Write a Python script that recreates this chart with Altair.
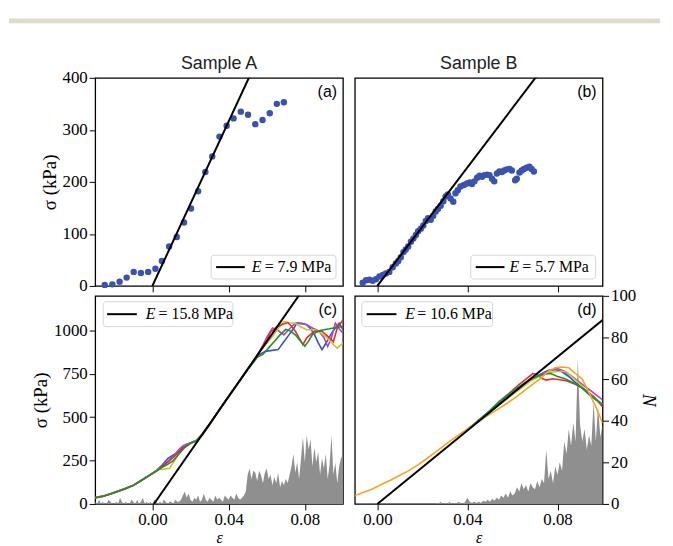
import altair as alt
import pandas as pd

SERIF = "Liberation Serif"
SANS = "Liberation Sans"
W, H = 250, 210

# ---------------- data ----------------
# panel (a): sample A, stress-strain points
a_eps = [-0.0250, -0.0210, -0.0172, -0.0135, -0.0098, -0.0060, -0.0022, 0.0016, 0.0050, 0.0088,
         0.0128, 0.0166, 0.0203, 0.0240, 0.0278, 0.0314, 0.0352, 0.0390, 0.0426, 0.0464,
         0.0502, 0.0540, 0.0578, 0.0616, 0.0653, 0.0690]
a_sig = [2, 3, 8, 16, 27, 25, 27, 33, 48, 76,
         94, 122, 149, 182, 219, 249, 287, 308, 322, 335,
         329, 311, 319, 332, 350, 353]

# panel (b): sample B, stress-strain points
b_eps = [-0.0065, -0.0050, -0.0035, -0.0021, -0.0006, 0.0009, 0.0024, 0.0038, 0.0053, 0.0068,
         0.0082, 0.0093, 0.0104, 0.0116, 0.0126, 0.0137, 0.0149, 0.0160, 0.0171, 0.0181,
         0.0193, 0.0204, 0.0215, 0.0225, 0.0237, 0.0248, 0.0259, 0.0269, 0.0281, 0.0293,
         0.0303, 0.0313, 0.0325, 0.0337, 0.0347, 0.0357, 0.0369, 0.0384, 0.0398, 0.0410,
         0.0420, 0.0431, 0.0443, 0.0454, 0.0465, 0.0475, 0.0487, 0.0498, 0.0509, 0.0519,
         0.0531, 0.0542, 0.0553, 0.0563, 0.0575, 0.0587, 0.0597, 0.0612, 0.0619, 0.0631,
         0.0641, 0.0651, 0.0663, 0.0675, 0.0685, 0.0695]
b_sig = [6, 11, 12, 10, 13, 18, 21, 24, 27, 36,
         43, 48, 55, 65, 70, 76, 85, 91, 98, 105,
         110, 116, 125, 130, 127, 135, 143, 148, 154, 163,
         172, 176, 168, 162, 178, 184, 191, 194, 197, 199,
         196, 201, 208, 212, 210, 213, 214, 213, 206, 201,
         216, 220, 219, 222, 224, 225, 222, 203, 206, 218,
         222, 225, 227, 229, 225, 220]

# linear fits: modulus (MPa) and strain offset
fit_E = [7.9, 5.7, 15.8, 10.6]
fit_eps0 = [0.0, 0.0, 0.0008, 0.0]
fit_labels = ["= 7.9 MPa", "= 5.7 MPa", "= 15.8 MPa", "= 10.6 MPa"]
letters = ["(a)", "(b)", "(c)", "(d)"]
samples = ["Sample A", "Sample B"]

# panel (c): sample A, five simulated curves
c_blue_eps = [-0.030, -0.026, -0.022, -0.018, -0.014, -0.010, -0.006, -0.002, 0.002, 0.005,
              0.008, 0.011, 0.014, 0.017, 0.020, 0.023, 0.026, 0.030, 0.034, 0.038,
              0.042, 0.046, 0.050, 0.053, 0.056, 0.059, 0.062, 0.066, 0.069, 0.071,
              0.074, 0.076, 0.079, 0.081, 0.083, 0.085, 0.087, 0.089, 0.091, 0.093,
              0.095, 0.098, 0.100]
c_blue_sig = [37, 45, 59, 74, 90, 108, 135, 163, 192, 222,
              262, 282, 305, 335, 352, 366, 400, 460, 525, 590,
              652, 714, 777, 822, 860, 879, 884, 890, 935, 965,
              1010, 1044, 1040, 1033, 1010, 977, 930, 890, 925, 965,
              1000, 1042, 1005]
c_red_eps = [-0.030, -0.026, -0.022, -0.018, -0.014, -0.010, -0.006, -0.002, 0.002, 0.005,
             0.008, 0.011, 0.014, 0.017, 0.020, 0.023, 0.026, 0.030, 0.034, 0.038,
             0.042, 0.046, 0.050, 0.052, 0.055, 0.057, 0.060, 0.062, 0.065, 0.068,
             0.071, 0.073, 0.075, 0.079, 0.081, 0.085, 0.089, 0.093, 0.095, 0.097,
             0.100]
c_red_sig = [35, 43, 57, 72, 88, 106, 133, 160, 188, 212,
             240, 268, 300, 330, 350, 362, 395, 455, 522, 588,
             650, 712, 777, 804, 855, 895, 945, 990, 1020, 1035,
             1046, 1025, 996, 919, 958, 996, 996, 958, 935, 1015,
             1061]
c_green_eps = [-0.030, -0.026, -0.022, -0.018, -0.014, -0.010, -0.006, -0.002, 0.002, 0.005,
               0.008, 0.011, 0.014, 0.017, 0.020, 0.023, 0.026, 0.030, 0.034, 0.038,
               0.042, 0.046, 0.050, 0.053, 0.055, 0.058, 0.061, 0.064, 0.067, 0.070,
               0.072, 0.075, 0.078, 0.080, 0.082, 0.084, 0.086, 0.088, 0.090, 0.093,
               0.095, 0.098, 0.100]
c_green_sig = [36, 44, 58, 73, 89, 107, 134, 162, 190, 210,
               228, 250, 290, 325, 350, 364, 398, 458, 524, 589,
               651, 713, 775, 815, 845, 862, 900, 937, 975, 1006,
               1000, 975, 935, 910, 940, 977, 990, 1000, 1004, 1010,
               1015, 1020, 1023]
c_magenta_eps = [-0.030, -0.026, -0.022, -0.018, -0.014, -0.010, -0.006, -0.002, 0.002, 0.005,
                 0.008, 0.011, 0.014, 0.016, 0.018, 0.020, 0.023, 0.026, 0.030, 0.034,
                 0.038, 0.042, 0.046, 0.050, 0.053, 0.056, 0.060, 0.063, 0.066, 0.069,
                 0.072, 0.075, 0.078, 0.081, 0.084, 0.087, 0.090, 0.092, 0.094, 0.096,
                 0.098, 0.100]
c_magenta_sig = [37, 45, 59, 74, 90, 108, 135, 163, 190, 215,
                 245, 275, 315, 335, 345, 352, 366, 400, 460, 525,
                 590, 653, 715, 778, 825, 870, 960, 1015, 1000, 975,
                 1010, 1042, 1040, 1033, 1015, 1000, 960, 908, 960, 1042,
                 1010, 985]
c_yellow_eps = [-0.030, -0.026, -0.022, -0.018, -0.014, -0.010, -0.006, -0.002, 0.001, 0.003,
                0.006, 0.009, 0.011, 0.014, 0.017, 0.020, 0.023, 0.026, 0.030, 0.034,
                0.038, 0.042, 0.046, 0.050, 0.054, 0.057, 0.060, 0.063, 0.066, 0.069,
                0.072, 0.075, 0.078, 0.081, 0.085, 0.088, 0.091, 0.094, 0.097, 0.100]
c_yellow_sig = [36, 44, 58, 73, 89, 107, 134, 162, 185, 200,
                200, 205, 240, 290, 330, 350, 364, 398, 458, 524,
                589, 652, 714, 776, 845, 889, 925, 965, 1010, 1052,
                1045, 1042, 1020, 1004, 1004, 990, 965, 930, 898, 927]

# panel (d): sample B, six simulated curves
d_orange_eps = [-0.010, -0.006, -0.002, 0.002, 0.006, 0.010, 0.014, 0.018, 0.022, 0.026,
                0.030, 0.034, 0.038, 0.042, 0.046, 0.050, 0.054, 0.058, 0.062, 0.066,
                0.070, 0.073, 0.076, 0.079, 0.082, 0.085, 0.088, 0.091, 0.094, 0.097, 0.100]
d_orange_sig = [48, 68, 88, 114, 138, 165, 192, 225, 262, 300,
                340, 378, 415, 450, 485, 518, 550, 585, 620, 660,
                700, 730, 765, 785, 790, 785, 752, 720, 640, 560, 467]
d_red_eps = [0.040, 0.044, 0.048, 0.052, 0.056, 0.060, 0.063, 0.066, 0.069, 0.071,
             0.073, 0.075, 0.078, 0.081, 0.084, 0.087, 0.090, 0.093, 0.096, 0.098, 0.100]
d_red_sig = [430, 470, 512, 560, 610, 655, 690, 720, 752, 745,
             725, 714, 722, 716, 710, 695, 675, 650, 620, 590, 560]
d_blue_eps = [0.045, 0.050, 0.055, 0.060, 0.064, 0.068, 0.072, 0.076, 0.079, 0.082,
              0.085, 0.088, 0.091, 0.094, 0.097, 0.100]
d_blue_sig = [480, 535, 590, 640, 680, 715, 745, 771, 775, 762,
              735, 700, 668, 630, 600, 575]
d_magenta_eps = [0.045, 0.050, 0.055, 0.060, 0.064, 0.068, 0.072, 0.076, 0.080, 0.083,
                 0.086, 0.089, 0.092, 0.095, 0.098, 0.100]
d_magenta_sig = [478, 532, 585, 635, 675, 712, 742, 765, 781, 765,
                 740, 710, 680, 650, 620, 600]
d_olive_eps = [0.045, 0.050, 0.055, 0.060, 0.064, 0.068, 0.072, 0.076, 0.079, 0.082,
               0.084, 0.087, 0.090, 0.093, 0.096, 0.099, 0.100]
d_olive_sig = [476, 530, 582, 630, 670, 708, 738, 758, 762, 765,
               762, 725, 690, 650, 615, 585, 578]
d_green_eps = [0.040, 0.043, 0.046, 0.050, 0.054, 0.058, 0.062, 0.065, 0.068, 0.071,
               0.074, 0.077, 0.080, 0.083, 0.086, 0.089, 0.092, 0.095, 0.098, 0.100]
d_green_sig = [432, 462, 495, 540, 590, 630, 668, 695, 718, 735,
               748, 752, 735, 724, 705, 685, 660, 625, 595, 571]

# histograms of events N (bins of width 0.001 in strain)
hist_step = 0.001
hist_c_start = -0.030
hist_c_N = [1, 0, 2, 0, 1, 0, 0, 2, 1, 0,
            0, 1, 0, 3, 1, 0, 1, 0, 0, 2,
            1, 0, 2, 0, 1, 3, 0, 1, 0, 1,
            0, 2, 1, 0, 1, 0, 2, 1, 0, 1,
            1, 0, 2, 1, 1, 2, 4, 6, 3, 5,
            2, 1, 3, 2, 4, 1, 2, 5, 2, 1,
            3, 2, 1, 4, 2, 3, 2, 1, 4, 3,
            2, 4, 3, 2, 5, 3, 2, 3, 4, 6,
            14, 17, 12, 16, 15, 11, 16, 14, 10, 15,
            17, 12, 14, 9, 13, 10, 15, 8, 11, 9,
            12, 10, 14, 18, 24, 15, 20, 12, 22, 32,
            20, 33, 26, 31, 18, 27, 20, 25, 14, 22,
            17, 24, 12, 19, 33, 14, 20, 10, 18, 22, 24]
hist_d_start = 0.026
hist_d_N = [0.5, 0, 1, 0, 0.5, 0, 1, 0, 0.5, 0,
            1, 0.5, 0, 1, 3, 1, 0.5, 1, 0.5, 1,
            0.5, 1.5, 1, 2, 1, 2.5, 1.5, 3, 2, 4,
            3, 5, 3, 6, 4, 5, 8, 6, 10, 7,
            9, 6, 10, 8, 7, 11, 8, 12, 10, 26,
            12, 16, 10, 18, 14, 20, 16, 30, 24, 36,
            28, 39, 30, 70, 38, 30, 36, 26, 33, 28,
            49, 30, 47, 32, 38]

# ---------------- styling ----------------
PT = "#3a52b0"
BLUE = "#3a4fc4"
RED = "#e82b2b"
GREEN = "#1f8f2f"
MAGENTA = "#b145c4"
YELLOW = "#c5c62c"
ORANGE = "#f7a324"
GRAY = "#8f8f8f"

x_ticks = [0.0, 0.04, 0.08]
y_ticks_top = [0, 100, 200, 300, 400]
y_ticks_bot = [0, 250, 500, 750, 1000]
n_ticks = [0, 20, 40, 60, 80, 100]
xdom_A = [-0.03, 0.1]
xdom_B = [-0.01, 0.1]
sig_top = [0, 400]
sig_bot = [0, 1200]
n_dom = [0, 100]

dummy = pd.DataFrame({"k": [0]})


def xenc(dom, show):
    if show:
        ax = alt.Axis(values=x_ticks, format=".2f", title="ε", titleFontStyle="italic",
                      titleFontSize=16, titleBaseline="top", titlePadding=2)
    else:
        ax = alt.Axis(values=x_ticks, labels=False, title=None)
    return alt.X("eps:Q", scale=alt.Scale(domain=dom, nice=False, zero=False), axis=ax)


def yenc(dom, vals):
    sc = alt.Scale(domain=dom, nice=False, zero=False)
    if vals is None:
        return alt.Y("sig:Q", scale=sc, axis=None)
    return alt.Y("sig:Q", scale=sc, axis=alt.Axis(values=vals, format="d", title="σ (kPa)",
                                                  titlePadding=3))


def fit_layer(i, xmax, X, Y):
    e0 = fit_eps0[i]
    E = fit_E[i]
    df = pd.DataFrame({"eps": [e0, xmax], "sig": [0.0, E * 1000 * (xmax - e0)]})
    return alt.Chart(df).mark_line(color="black", strokeWidth=2, clip=True).encode(x=X, y=Y)


def legend_layers(i, box, line, ex, eqx, ty):
    x1, x2, y1, y2 = box
    lx1, lx2, ly = line
    base = alt.Chart(dummy)
    return [
        base.mark_rect(fill="white", stroke="#d6d6d6", strokeWidth=1, cornerRadius=3).encode(
            x=alt.value(x1), x2=alt.value(x2), y=alt.value(y1), y2=alt.value(y2)),
        base.mark_rule(color="black", strokeWidth=2).encode(
            x=alt.value(lx1), x2=alt.value(lx2), y=alt.value(ly)),
        base.mark_text(font=SERIF, fontSize=16, fontStyle="italic", align="left",
                       baseline="middle", color="black").encode(
            x=alt.value(ex), y=alt.value(ty), text=alt.value("E")),
        base.mark_text(font=SERIF, fontSize=16, align="left", baseline="middle",
                       color="black").encode(
            x=alt.value(eqx), y=alt.value(ty), text=alt.value(fit_labels[i])),
    ]


def letter_layer(i):
    return alt.Chart(dummy).mark_text(font=SANS, fontSize=16, align="right",
                                      baseline="middle", color="black").encode(
        x=alt.value(244), y=alt.value(14), text=alt.value(letters[i]))


def sample_layer(j):
    return alt.Chart(dummy).mark_text(font=SANS, fontSize=18, align="center",
                                      baseline="alphabetic", color="#222222").encode(
        x=alt.value(W / 2), y=alt.value(-9), text=alt.value(samples[j]))


def curve(eps, sig, color, X, Y):
    df = pd.DataFrame({"eps": eps, "sig": sig})
    return alt.Chart(df).mark_line(color=color, strokeWidth=1.6, clip=True).encode(x=X, y=Y)


def hist(start, Ns, X, axis):
    df = pd.DataFrame({"eps": [round(start + k * hist_step, 4) for k in range(len(Ns))], "N": Ns})
    return alt.Chart(df).mark_area(color=GRAY, opacity=1, clip=True).encode(
        x=X, y=alt.Y("N:Q", scale=alt.Scale(domain=n_dom, nice=False, zero=True), axis=axis))


# ---------------- panel (a) ----------------
Xa = xenc(xdom_A, False)
Ya = yenc(sig_top, y_ticks_top)
bar = alt.Chart(dummy).mark_rect(color="#e0dbcf").encode(
    x=alt.value(-87), x2=alt.value(570), y=alt.value(-60), y2=alt.value(-55))
pts_a = alt.Chart(pd.DataFrame({"eps": a_eps, "sig": a_sig})).mark_circle(
    size=42, color=PT, opacity=1).encode(x=Xa, y=Ya)
pa = alt.layer(
    bar, sample_layer(0), pts_a, fit_layer(0, 0.1, Xa, Ya),
    *legend_layers(0, (117, 243, 179, 203), (122, 151, 191), 158, 171, 191),
    letter_layer(0)
).properties(width=W, height=H)

# ---------------- panel (b) ----------------
Xb = xenc(xdom_B, False)
Yb = yenc(sig_top, None)
pts_b = alt.Chart(pd.DataFrame({"eps": b_eps, "sig": b_sig})).mark_circle(
    size=42, color=PT, opacity=1).encode(x=Xb, y=Yb)
pb = alt.layer(
    sample_layer(1), pts_b, fit_layer(1, 0.1, Xb, Yb),
    *legend_layers(1, (117, 243, 179, 203), (122, 151, 191), 156, 169, 191),
    letter_layer(1)
).properties(width=W, height=H)

# ---------------- panel (c) ----------------
Xc = xenc(xdom_A, True)
Yc = yenc(sig_bot, y_ticks_bot)
curves_c = [
    curve(c_blue_eps, c_blue_sig, BLUE, Xc, Yc),
    curve(c_magenta_eps, c_magenta_sig, MAGENTA, Xc, Yc),
    curve(c_yellow_eps, c_yellow_sig, YELLOW, Xc, Yc),
    curve(c_red_eps, c_red_sig, RED, Xc, Yc),
    curve(c_green_eps, c_green_sig, GREEN, Xc, Yc),
]
inner_c = alt.layer(
    *curves_c, fit_layer(2, 0.1, Xc, Yc),
    *legend_layers(2, (8, 139, 6, 31), (12, 42, 18.5), 51, 64, 18.5),
    letter_layer(2)
)
pc = alt.layer(hist(hist_c_start, hist_c_N, Xc, None), inner_c).resolve_scale(
    y="independent").properties(width=W, height=H)

# ---------------- panel (d) ----------------
Xd = xenc(xdom_B, True)
Yd = yenc(sig_bot, None)
curves_d = [
    curve(d_red_eps, d_red_sig, RED, Xd, Yd),
    curve(d_blue_eps, d_blue_sig, BLUE, Xd, Yd),
    curve(d_magenta_eps, d_magenta_sig, MAGENTA, Xd, Yd),
    curve(d_olive_eps, d_olive_sig, YELLOW, Xd, Yd),
    curve(d_green_eps, d_green_sig, GREEN, Xd, Yd),
    curve(d_orange_eps, d_orange_sig, ORANGE, Xd, Yd),
]
inner_d = alt.layer(
    *curves_d, fit_layer(3, 0.1, Xd, Yd),
    *legend_layers(3, (7, 139, 6, 31), (12, 42, 18.5), 51, 63, 18.5),
    letter_layer(3)
)
n_axis = alt.Axis(orient="right", values=n_ticks, title="N", titleFontStyle="italic",
                  titlePadding=3)
pd_ = alt.layer(hist(hist_d_start, hist_d_N, Xd, n_axis), inner_d).resolve_scale(
    y="independent").properties(width=W, height=H)

chart = alt.concat(
    pa, pb, pc, pd_, columns=2, spacing={"row": 10, "column": 12}, bounds="flush"
).properties(
    padding={"left": 0, "top": 7, "right": 4, "bottom": 0}, background="white"
).configure_view(
    stroke="black", strokeWidth=1.3
).configure_axis(
    grid=False, domain=False, tickColor="black", tickSize=6, tickWidth=1,
    labelFont=SERIF, labelFontSize=17, labelColor="black", labelPadding=2,
    titleFont=SERIF, titleFontSize=19, titleFontWeight="normal", titleColor="black"
)

chart.save("out.html", embed_options={"renderer": "svg", "actions": False})
